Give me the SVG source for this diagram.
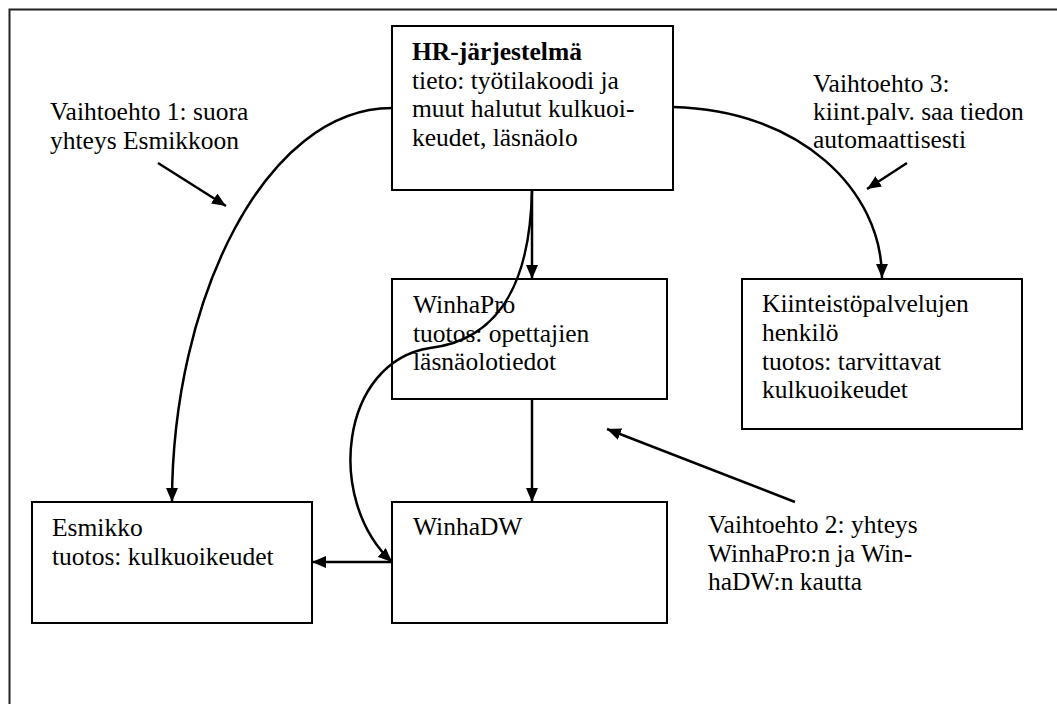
<svg xmlns="http://www.w3.org/2000/svg" width="1057" height="704" viewBox="0 0 1057 704">
<defs>
<marker id="ah" viewBox="0 0 14 12" refX="14" refY="6" markerWidth="14" markerHeight="12" markerUnits="userSpaceOnUse" orient="auto">
<path d="M0,0 L14,6 L0,12 z" fill="#000"/>
</marker>
<style>
.box{fill:#fff;stroke:#000;stroke-width:2}
.t{font-family:"Liberation Serif","Times New Roman",serif;font-size:25.5px;fill:#000}
.b{font-weight:bold}
.c{fill:none;stroke:#000;stroke-width:2.5}
</style>
</defs>
<rect x="0" y="0" width="1057" height="704" fill="#fff"/>
<rect x="9.5" y="9.5" width="1100" height="750" fill="none" stroke="#222" stroke-width="2"/>

<g id="hr">
<rect class="box" x="392" y="26" width="281" height="164"/>
<text class="t b" x="412" y="60">HR-järjestelmä</text>
<text class="t" x="412" y="89">tieto: työtilakoodi ja</text>
<text class="t" x="412" y="117">muut halutut kulkuoi-</text>
<text class="t" x="412" y="146">keudet, läsnäolo</text>
</g>

<g id="winhapro">
<rect class="box" x="392" y="279" width="275" height="120"/>
<text class="t" x="413" y="313">WinhaPro</text>
<text class="t" x="413" y="342">tuotos: opettajien</text>
<text class="t" x="413" y="370">läsnäolotiedot</text>
</g>

<g id="winhadw">
<rect class="box" x="392" y="502" width="275" height="121"/>
<text class="t" x="413" y="535">WinhaDW</text>
</g>

<g id="esmikko">
<rect class="box" x="32" y="502" width="280" height="121"/>
<text class="t" x="52" y="536">Esmikko</text>
<text class="t" x="52" y="565">tuotos: kulkuoikeudet</text>
</g>

<g id="kiint">
<rect class="box" x="742" y="279" width="280" height="150"/>
<text class="t" x="762" y="312">Kiinteistöpalvelujen</text>
<text class="t" x="762" y="341">henkilö</text>
<text class="t" x="762" y="370">tuotos: tarvittavat</text>
<text class="t" x="762" y="398">kulkuoikeudet</text>
</g>

<g id="label1">
<text class="t" x="50" y="120">Vaihtoehto 1: suora</text>
<text class="t" x="50" y="149">yhteys Esmikkoon</text>
</g>

<g id="label3">
<text class="t" x="813" y="92">Vaihtoehto 3:</text>
<text class="t" x="813" y="120">kiint.palv. saa tiedon</text>
<text class="t" x="813" y="148">automaattisesti</text>
</g>

<g id="label2">
<text class="t" x="708" y="533">Vaihtoehto 2: yhteys</text>
<text class="t" x="708" y="562">WinhaPro:n ja Win-</text>
<text class="t" x="708" y="590">haDW:n kautta</text>
</g>

<g id="connectors">
<path class="c" d="M392,108 C265,108 172,300 172,502" marker-end="url(#ah)"/>
<path class="c" d="M673,107 C800,110 882,190 882,278" marker-end="url(#ah)"/>
<path class="c" d="M532,190 L532,279" marker-end="url(#ah)"/>
<path class="c" d="M532,399 L532,502" marker-end="url(#ah)"/>
<path class="c" d="M392,562 L312,562" marker-end="url(#ah)"/>
<path class="c" d="M532,190 C530,290 495,340 430,348 C340,362 325,500 392,562" marker-end="url(#ah)"/>
<path class="c" d="M158,163 L226,206" marker-end="url(#ah)"/>
<path class="c" d="M907,163 L867,189" marker-end="url(#ah)"/>
<path class="c" d="M795,502 L607,429" marker-end="url(#ah)"/>
</g>
</svg>
